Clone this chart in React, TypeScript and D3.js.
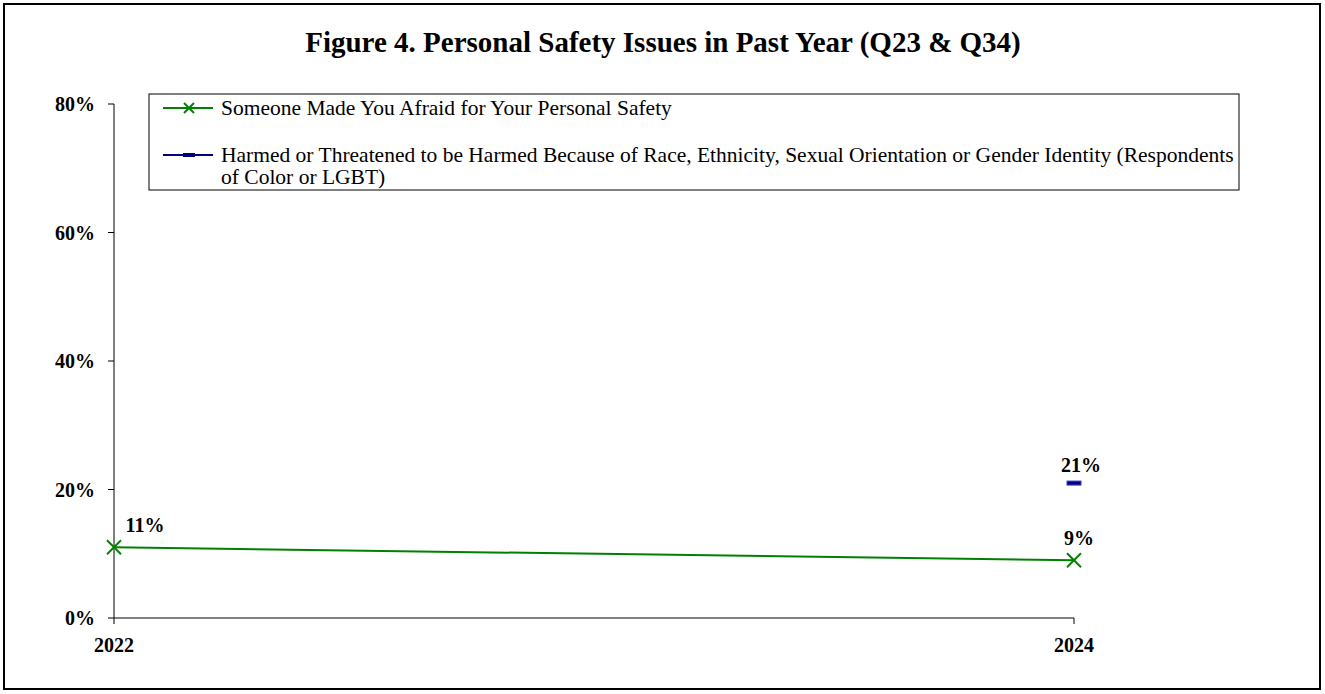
import React from "react";
import * as d3 from "d3";

const years = ["2022", "2024"];
const afraidValues: (number | null)[] = [11, 9];
const harmedValues: (number | null)[] = [null, 21];
const yTicks = [0, 20, 40, 60, 80];
const title = "Figure 4. Personal Safety Issues in Past Year (Q23 & Q34)";
const legend1 = "Someone Made You Afraid for Your Personal Safety";
const legend2a = "Harmed or Threatened to be Harmed Because of Race, Ethnicity, Sexual Orientation or Gender Identity (Respondents";
const legend2b = "of Color or LGBT)";

const W = 1325;
const H = 694;
const FONT = "'Liberation Serif', 'Times New Roman', serif";
const GREEN = "#008000";
const NAVY = "#000080";

export default function App() {
  const x = d3.scalePoint<string>().domain(years).range([114, 1074]);
  const y = d3.scaleLinear().domain([0, 80]).range([618, 104]);

  const line = d3
    .line<number | null>()
    .defined((d) => d != null)
    .x((_, i) => x(years[i]) as number)
    .y((d) => y(d as number));

  const cross = (cx: number, cy: number, key: string, r = 7) => (
    <g key={key} stroke={GREEN} strokeWidth={2}>
      <line x1={cx - r} y1={cy - r} x2={cx + r} y2={cy + r} />
      <line x1={cx - r} y1={cy + r} x2={cx + r} y2={cy - r} />
    </g>
  );
  const dash = (cx: number, cy: number, key: string) => (
    <rect key={key} x={cx - 7} y={cy - 2} width={14} height={4} fill={NAVY} stroke="#3a3ad0" strokeWidth={1} />
  );

  return (
    <div style={{ position: "absolute", left: 0, top: 0 }}>
      <svg width={W} height={H} style={{ display: "block", background: "#fff" }}>
        <rect x={4} y={4} width={1316} height={685} fill="#fff" stroke="#000" strokeWidth={2} />
        <text x={663} y={52} textAnchor="middle" fontFamily={FONT} fontWeight="bold" fontSize={29}>
          {title}
        </text>

        {/* y axis */}
        <line x1={114} y1={104} x2={114} y2={618} stroke="#000" strokeWidth={1} />
        {yTicks.map((t) => (
          <g key={t}>
            <line x1={108} x2={114} y1={y(t)} y2={y(t)} stroke="#000" />
            <text x={95} y={y(t) + 7} textAnchor="end" fontFamily={FONT} fontWeight="bold" fontSize={20}>
              {t}%
            </text>
          </g>
        ))}
        {/* x axis */}
        <line x1={114} y1={618} x2={1074} y2={618} stroke="#000" strokeWidth={1} />
        {years.map((yr) => (
          <g key={yr}>
            <line x1={x(yr)} x2={x(yr)} y1={618} y2={624} stroke="#000" />
            <text x={x(yr)} y={652} textAnchor="middle" fontFamily={FONT} fontWeight="bold" fontSize={20}>
              {yr}
            </text>
          </g>
        ))}

        {/* series */}
        <path d={line(afraidValues) || ""} fill="none" stroke={GREEN} strokeWidth={2} />
        {afraidValues.map((v, i) => (v == null ? null : cross(x(years[i]) as number, y(v), "a" + i)))}
        {harmedValues.map((v, i) => (v == null ? null : dash(x(years[i]) as number, y(v), "h" + i)))}

        {/* labels */}
        {afraidValues.map((v, i) =>
          v == null ? null : (
            <text
              key={"la" + i}
              x={i === 0 ? (x(years[i]) as number) + 31 : (x(years[i]) as number) + 5}
              y={y(v) - 15}
              textAnchor="middle"
              fontFamily={FONT}
              fontWeight="bold"
              fontSize={20}
            >
              {v}%
            </text>
          )
        )}
        {harmedValues.map((v, i) =>
          v == null ? null : (
            <text
              key={"lh" + i}
              x={(x(years[i]) as number) + 7}
              y={y(v) - 11}
              textAnchor="middle"
              fontFamily={FONT}
              fontWeight="bold"
              fontSize={20}
            >
              {v}%
            </text>
          )
        )}

        {/* legend */}
        <rect x={149} y={94} width={1090} height={96} fill="#fff" stroke="#000" strokeWidth={1} />
        <line x1={163} x2={213} y1={108} y2={108} stroke={GREEN} strokeWidth={2} />
        {cross(189, 108, "lg1", 5)}
        <text x={221} y={115} fontFamily={FONT} fontSize={21.5}>{legend1}</text>
        <line x1={163} x2={213} y1={155} y2={155} stroke={NAVY} strokeWidth={2} />
        <rect x={183} y={153} width={12} height={4} fill={NAVY} />
        <text x={221} y={162} fontFamily={FONT} fontSize={21.5}>{legend2a}</text>
        <text x={221} y={184} fontFamily={FONT} fontSize={21.5}>{legend2b}</text>
      </svg>
    </div>
  );
}
